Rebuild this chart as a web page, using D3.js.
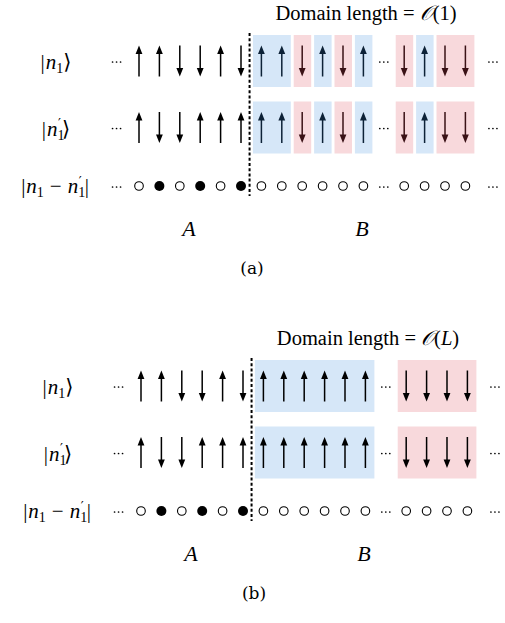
<!DOCTYPE html>
<html><head><meta charset="utf-8">
<script src="https://cdn.jsdelivr.net/npm/d3@7"></script>
<style>body{margin:0;background:#fff}svg{display:block}</style>
</head><body>
<svg id="c" width="505" height="623"></svg>
<script>
// ---- data ----
const panelNames = ["(a)", "(b)"];
const panelTitles = ["1", "L"];
// region A spins (same in both panels)
const spinsA_row1 = [1, 1, -1, -1, 1, -1];
const spinsA_row2 = [1, -1, -1, 1, 1, 1];
// region B spins (both rows identical), two visible segments separated by dots
const spinsB_a_seg1 = [1, 1, -1, 1, -1, 1];
const spinsB_a_seg2 = [-1, 1, -1, -1];
const spinsB_b_seg1 = [1, 1, 1, 1, 1, 1];
const spinsB_b_seg2 = [-1, -1, -1, -1];
// domains (site index ranges within segment, sign)
const domains_a_seg1 = [[0, 1, 1], [2, 2, -1], [3, 3, 1], [4, 4, -1], [5, 5, 1]];
const domains_a_seg2 = [[0, 0, -1], [1, 1, 1], [2, 3, -1]];
const domains_b_seg1 = [[0, 5, 1]];
const domains_b_seg2 = [[0, 3, -1]];

const panels = [
  {name: panelNames[0], title: panelTitles[0], seg1: spinsB_a_seg1, seg2: spinsB_a_seg2, d1: domains_a_seg1, d2: domains_a_seg2, dy: 0, dx: 0},
  {name: panelNames[1], title: panelTitles[1], seg1: spinsB_b_seg1, seg2: spinsB_b_seg2, d1: domains_b_seg1, d2: domains_b_seg2, dy: 325, dx: 2}
];

const svg = d3.select("#c");
svg.append("rect").attr("width", 505).attr("height", 623).attr("fill", "#fff");

const serif = "'Liberation Serif','DejaVu Serif',serif";
const BLUE = "#d6e7f8", RED = "#f8d9dc";
const ARROW_BLUE = "#0d2237", ARROW_RED = "#3a1216", ARROW = "#000";

const rowY = d3.scaleOrdinal().domain([0, 1, 2]).range([61, 127.5, 186]);

function arrow(g, x, yc, s, color) {
  const half = 15.5, hh = 8.5, hw = 3.4;
  const tip = yc - s * half, tail = yc + s * half;
  g.append("line").attr("x1", x).attr("x2", x).attr("y1", tail).attr("y2", tip + s * (hh - 1))
    .attr("stroke", color).attr("stroke-width", 1.5);
  g.append("path").attr("d", `M${x},${tip} L${x - hw},${tip + s * hh} L${x + hw},${tip + s * hh} Z`).attr("fill", color);
}

function dots(g, x, y) {
  [-4, 0, 4].forEach(d => g.append("circle").attr("cx", x + d).attr("cy", y + 1).attr("r", 0.85).attr("fill", "#000"));
}

panels.forEach(p => {
  const g = svg.append("g").attr("transform", `translate(${p.dx},${p.dy})`);
  const x = d3.scaleLinear().domain([0, 16]).range([139, 465.4]);

  // title
  const t = g.append("text").attr("x", 366).attr("y", 20).attr("text-anchor", "middle")
    .attr("font-family", serif).attr("font-size", 20.5);
  t.append("tspan").text("Domain length = ");
  t.append("tspan").attr("font-style", "italic").text("𝒪");
  t.append("tspan").text("(");
  if (p.title === "L") t.append("tspan").attr("font-style", "italic").text("L");
  else t.append("tspan").text(p.title);
  t.append("tspan").text(")");

  // domain boxes
  [[p.d1, 6], [p.d2, 13]].forEach(([doms, off]) => {
    [0, 1].forEach(r => {
      g.selectAll(null).data(doms).enter().append("rect")
        .attr("x", d => x(off + d[0]) - 8.5)
        .attr("width", d => x(off + d[1]) - x(off + d[0]) + 17.5)
        .attr("y", rowY(r) - 26).attr("height", 52)
        .attr("fill", d => d[2] > 0 ? BLUE : RED);
    });
  });

  // A arrows
  [spinsA_row1, spinsA_row2].forEach((row, r) => {
    row.forEach((s, i) => arrow(g, x(i), rowY(r), s, ARROW));
    dots(g, x(-1.1), rowY(r));
  });
  // B arrows
  const colorFor = (doms, i) => {
    const d = doms.find(d => i >= d[0] && i <= d[1]);
    if (!d || p.title === "L") return ARROW;
    return d[2] > 0 ? ARROW_BLUE : ARROW_RED;
  };
  [0, 1].forEach(r => {
    p.seg1.forEach((s, i) => arrow(g, x(6 + i), rowY(r), s, colorFor(p.d1, i)));
    p.seg2.forEach((s, i) => arrow(g, x(13 + i), rowY(r), s, colorFor(p.d2, i)));
    dots(g, x(12), rowY(r));
    dots(g, x(17.35), rowY(r));
  });

  // difference row
  const yd = rowY(2);
  const diffA = spinsA_row1.map((s, i) => s !== spinsA_row2[i] ? 1 : 0);
  g.selectAll(null).data(diffA).enter().append("circle")
    .attr("cx", (d, i) => x(i)).attr("cy", yd)
    .attr("r", d => d ? 5 : 4.3)
    .attr("fill", d => d ? "#000" : "#fff")
    .attr("stroke", "#000").attr("stroke-width", d => d ? 0 : 1.1);
  const diffB = p.seg1.map(() => 0).concat(p.seg2.map(() => 0));
  g.selectAll(null).data(diffB).enter().append("circle")
    .attr("cx", (d, i) => x(i < p.seg1.length ? 6 + i : 13 + i - p.seg1.length)).attr("cy", yd)
    .attr("r", 4.3).attr("fill", "#fff").attr("stroke", "#000").attr("stroke-width", 1.1);
  dots(g, x(-1.1), yd);
  dots(g, x(12), yd);
  dots(g, x(17.35), yd);

  // dashed divider
  g.append("line").attr("x1", x(5.42)).attr("x2", x(5.42)).attr("y1", 33).attr("y2", 196)
    .attr("stroke", "#000").attr("stroke-width", 2).attr("stroke-dasharray", "3,2.2");

  // row labels
  const fs = 21, ss = 14;
  const mk = (xc, y) => g.append("text").attr("x", xc).attr("y", y).attr("text-anchor", "middle")
    .attr("font-family", serif).attr("font-size", fs);
  const prime = tt => tt.append("tspan").attr("font-family", "'DejaVu Sans',sans-serif")
    .attr("font-size", 13).attr("dx", -6.5).attr("dy", -12.5).text("′");
  const l1 = mk(56, rowY(0) + 8);
  l1.append("tspan").text("|");
  l1.append("tspan").attr("font-style", "italic").attr("dx", 1).text("n");
  l1.append("tspan").attr("font-size", ss).attr("dy", 4).text("1");
  l1.append("tspan").attr("dy", -4).text("⟩");

  const l2 = mk(56, rowY(1) + 8);
  l2.append("tspan").text("|");
  l2.append("tspan").attr("font-style", "italic").attr("dx", 1).text("n");
  l2.append("tspan").attr("font-size", ss).attr("dy", 4).text("1");
  prime(l2);
  l2.append("tspan").attr("dy", 8.5).attr("dx", 1).text("⟩");

  const l3 = mk(55, yd + 7);
  l3.append("tspan").text("|");
  l3.append("tspan").attr("font-style", "italic").attr("dx", 1).text("n");
  l3.append("tspan").attr("font-size", ss).attr("dy", 4).text("1");
  l3.append("tspan").attr("dy", -4).attr("dx", 6).text("−");
  l3.append("tspan").attr("font-style", "italic").attr("dx", 6).text("n");
  l3.append("tspan").attr("font-size", ss).attr("dy", 4).text("1");
  prime(l3);
  l3.append("tspan").attr("dy", 8.5).attr("dx", 3).text("|");

  // region labels
  g.append("text").attr("x", 189).attr("y", 236).attr("text-anchor", "middle")
    .attr("font-family", serif).attr("font-style", "italic").attr("font-size", 22).text("A");
  g.append("text").attr("x", 362).attr("y", 236).attr("text-anchor", "middle")
    .attr("font-family", serif).attr("font-style", "italic").attr("font-size", 22).text("B");
  // panel caption
  g.append("text").attr("x", 252).attr("y", 274).attr("text-anchor", "middle")
    .attr("font-family", "'DejaVu Serif',serif").attr("font-size", 17).text(p.name);
});
</script>
</body></html>
